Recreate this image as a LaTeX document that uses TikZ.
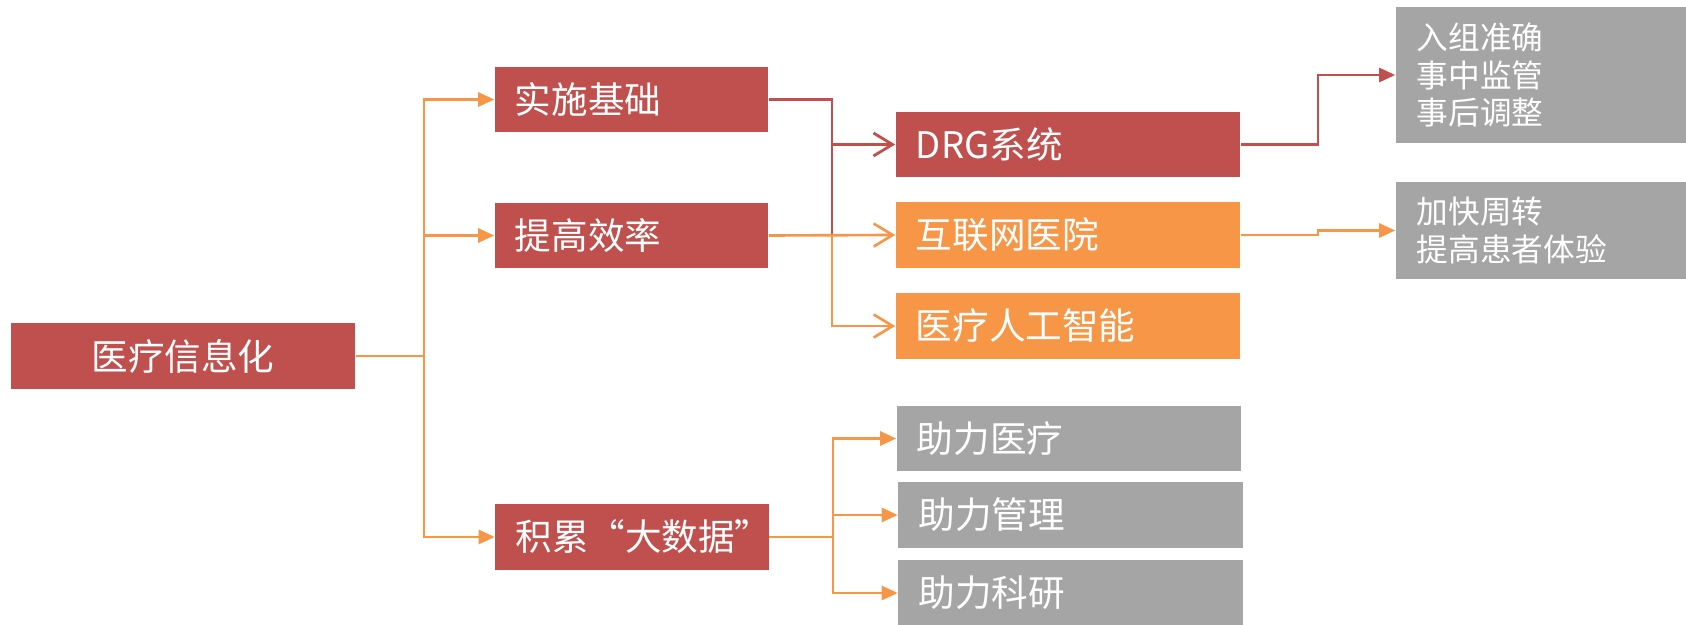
\documentclass[tikz,border=0pt]{standalone}
\usepackage{fontspec}
\setmainfont{Noto Sans CJK SC}
\usepackage{xcolor}
\usepackage{tikz}
\usetikzlibrary{arrows.meta, positioning, calc}

\definecolor{boxred}{HTML}{C0504D}
\definecolor{boxorange}{HTML}{F79646}
\definecolor{boxgrey}{HTML}{A5A5A5}

\begin{document}
\begin{tikzpicture}[x=0.01cm, y=-0.01cm,
    tagbox/.style={text=white, inner xsep=0.2cm, inner ysep=0pt, minimum height=0.65cm,
      font=\fontsize{10.4pt}{12pt}\selectfont},
    lvlone/.style={tagbox, fill=boxred, text width=2.33cm, align=left},
    lvltwo/.style={tagbox, text width=3.04cm, align=left},
    notebox/.style={tagbox, fill=boxgrey, inner xsep=0.21cm, text width=2.48cm, align=left,
      font=\fontsize{9pt}{10.8pt}\selectfont},
    link/.style={draw=boxorange, line width=0.75pt},
    redlink/.style={draw=boxred, line width=0.8pt},
    filltip/.style={-{Triangle[length=0.16cm, width=0.14cm]}},
    opentip/.style={-{Straight Barb[length=0.19cm, width=0.23cm]}}]
  \useasboundingbox (0,0) rectangle (1686,625);

  % boxes
  \node[tagbox, fill=boxred, minimum width=3.44cm] (root) at (183,356) {医疗信息化};
  \node[lvlone] (base) at (631.5,99.5) {实施基础};
  \node[lvlone] (speed) at (631.5,235.5) {提高效率};
  \node[lvlone] (data) at (632,537) {积累“大数据”};

  \node[lvltwo, fill=boxred] (drg) at (1068,144.5) {DRG系统};
  \node[lvltwo, fill=boxorange] (web) at (1068,235) {互联网医院};
  \node[lvltwo, fill=boxorange] (ai) at (1068,326) {医疗人工智能};
  \foreach \n/\x/\y/\t in {helpcare/1069/438.5/助力医疗, helpmgmt/1070.5/515/助力管理, helpres/1070.5/593/助力科研}
    \node[lvltwo, fill=boxgrey] (\n) at (\x,\y) {\t};

  \node[notebox, minimum height=1.36cm] (drgnote) at (1541,75) {入组准确\\事中监管\\事后调整};
  \node[notebox, minimum height=0.97cm] (webnote) at (1541,230.5) {加快周转\\提高患者体验};

  % connectors
  \coordinate (split) at (424,356);
  \draw[link] (root.east) -- (split);
  \foreach \n in {base, speed, data}
    \draw[link, filltip] (split) |- (\n.west);

  \coordinate (mid) at (832,235.5);
  \draw[redlink] (base.east) -| (mid);
  \draw[redlink, opentip] (drg.west -| mid) -- (drg.west);
  \draw[link, opentip] (speed.east) -- (web.west);
  \draw[link, opentip] (mid) |- (ai.west);

  \coordinate (dsplit) at (833,537);
  \draw[link] (data.east) -- (dsplit);
  \foreach \n in {helpcare, helpmgmt, helpres}
    \draw[link, filltip] (dsplit) |- (\n.west);

  \draw[redlink, filltip] (drg.east) -| ($(drg.east)!0.5!(drgnote.west)$) |- (drgnote.west);
  \draw[link, filltip] (web.east) -| ($(web.east)!0.5!(webnote.west)$) |- (webnote.west);
\end{tikzpicture}
\end{document}
